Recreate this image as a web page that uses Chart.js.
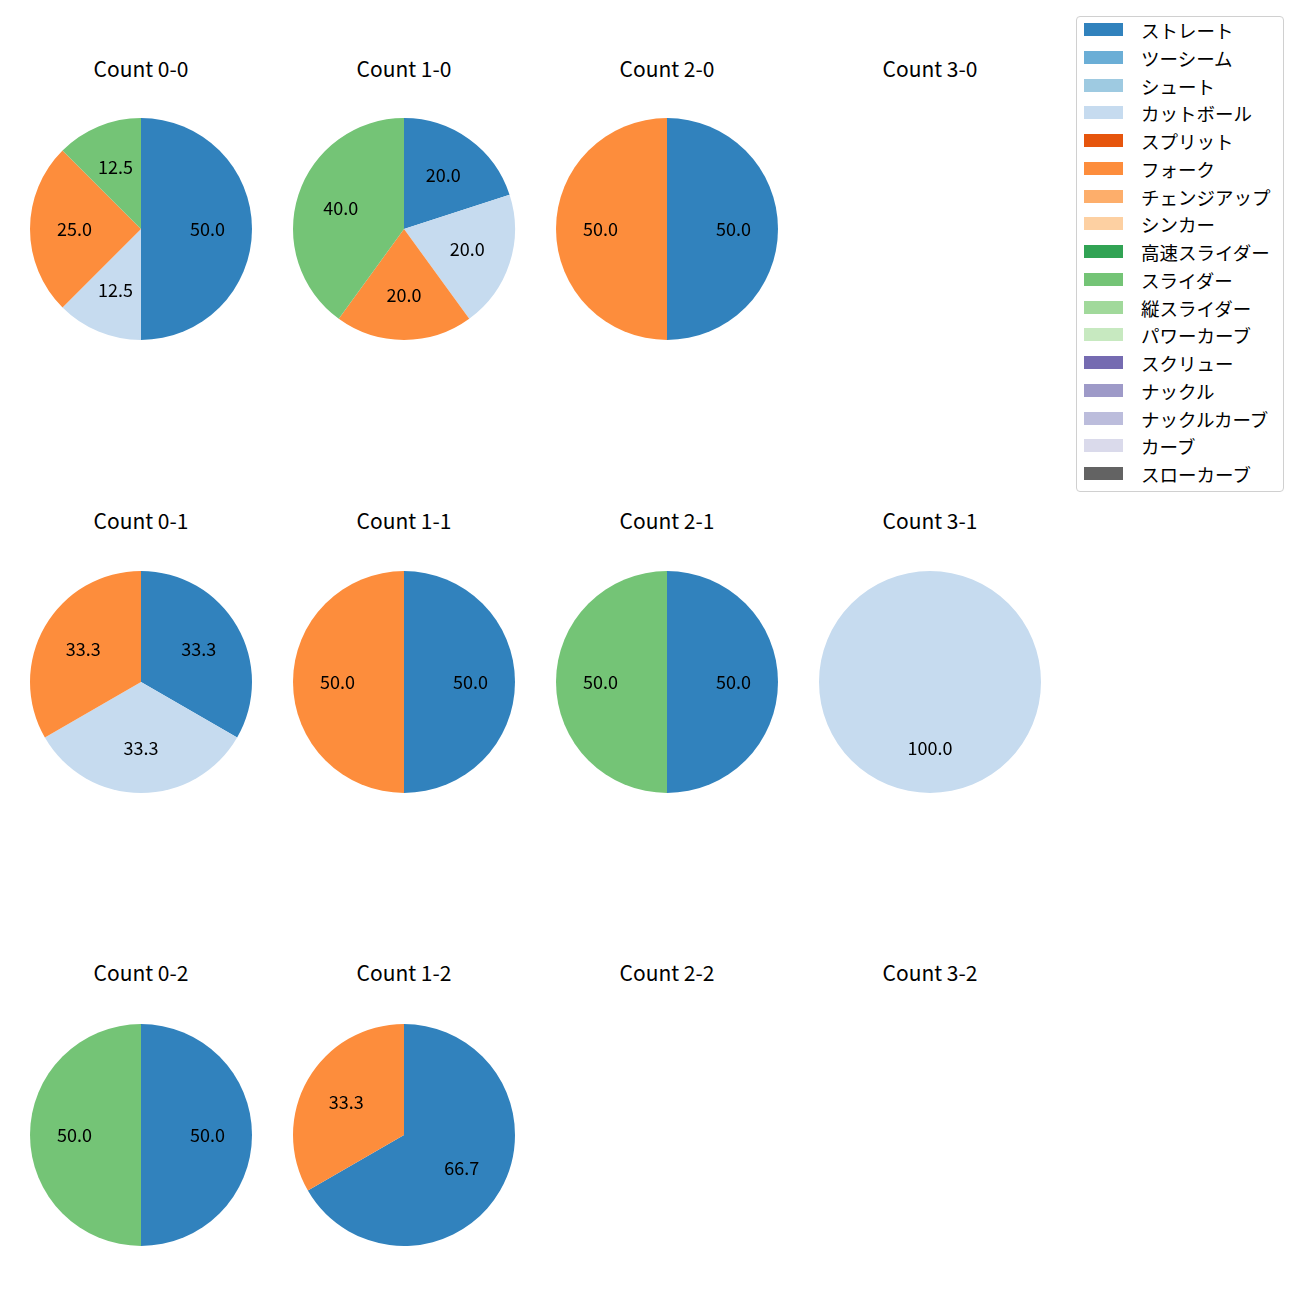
<!DOCTYPE html>
<html>
<head>
<meta charset="utf-8">
<script src="https://cdn.jsdelivr.net/npm/chart.js@4/dist/chart.umd.min.js"></script>
<style>
  body { margin: 0; background: #fff; font-family: "Noto Sans CJK JP", sans-serif; }
  #page { position: relative; width: 1300px; height: 1300px; }
  canvas { position: absolute; }
  .title { position: absolute; width: 240px; text-align: center; font-size: 21px; color: #000; line-height: 24px; }
  #legend { position: absolute; left: 1076px; top: 16px; width: 208px; height: 476px;
            border: 1px solid #d0d0d0; border-radius: 4px; box-sizing: border-box; }
  .item { position: absolute; left: 7px; height: 28px; font-size: 18.5px; color: #000; }
  .patch { position: absolute; left: 0; top: 7px; width: 39px; height: 13px; }
  .lbl { position: absolute; left: 57px; top: 0; white-space: nowrap; line-height: 28px; }
</style>
</head>
<body>
<div id="page"></div>
<script>
// pitch types and tab20c colours
var pitchTypes = ['ストレート','ツーシーム','シュート','カットボール','スプリット','フォーク','チェンジアップ','シンカー',
  '高速スライダー','スライダー','縦スライダー','パワーカーブ','スクリュー','ナックル','ナックルカーブ','カーブ','スローカーブ'];
var pitchColors = ['#3182bd','#6baed6','#9ecae1','#c6dbef','#e6550d','#fd8d3c','#fdae6b','#fdd0a2',
  '#31a354','#74c476','#a1d99b','#c7e9c0','#756bb1','#9e9ac8','#bcbddc','#dadaeb','#636363'];

var countTitles = ['Count 0-0','Count 1-0','Count 2-0','Count 3-0',
                   'Count 0-1','Count 1-1','Count 2-1','Count 3-1',
                   'Count 0-2','Count 1-2','Count 2-2','Count 3-2'];

// pitches thrown per count, in pitchTypes order
var count00 = [4,0,0,1,0,2,0,0,0,1,0,0,0,0,0,0,0];
var count10 = [1,0,0,1,0,1,0,0,0,2,0,0,0,0,0,0,0];
var count20 = [1,0,0,0,0,1,0,0,0,0,0,0,0,0,0,0,0];
var count30 = [0,0,0,0,0,0,0,0,0,0,0,0,0,0,0,0,0];
var count01 = [1,0,0,1,0,1,0,0,0,0,0,0,0,0,0,0,0];
var count11 = [1,0,0,0,0,1,0,0,0,0,0,0,0,0,0,0,0];
var count21 = [1,0,0,0,0,0,0,0,0,1,0,0,0,0,0,0,0];
var count31 = [0,0,0,1,0,0,0,0,0,0,0,0,0,0,0,0,0];
var count02 = [1,0,0,0,0,0,0,0,0,1,0,0,0,0,0,0,0];
var count12 = [2,0,0,0,0,1,0,0,0,0,0,0,0,0,0,0,0];
var count22 = [0,0,0,0,0,0,0,0,0,0,0,0,0,0,0,0,0];
var count32 = [0,0,0,0,0,0,0,0,0,0,0,0,0,0,0,0,0];
var countData = [count00,count10,count20,count30,count01,count11,count21,count31,count02,count12,count22,count32];

var colX = [141, 404, 667, 930];
var rowY = [229, 682, 1135];
var titleY = [69, 521, 973];

// percent labels at 0.6 of the radius, like matplotlib autopct
var pctLabels = {
  id: 'pctLabels',
  afterDatasetsDraw: function(chart) {
    var ctx = chart.ctx;
    var vals = chart.data.datasets[0].data;
    var total = vals.reduce(function(a, b) { return a + b; }, 0);
    if (!total) return;
    ctx.save();
    ctx.font = '18px "Noto Sans CJK JP", sans-serif';
    ctx.fillStyle = '#000';
    ctx.textAlign = 'center';
    ctx.textBaseline = 'middle';
    chart.getDatasetMeta(0).data.forEach(function(arc, i) {
      if (!vals[i]) return;
      var p = arc.getProps(['x','y','startAngle','endAngle','outerRadius'], true);
      var a = (p.startAngle + p.endAngle) / 2;
      var r = p.outerRadius * 0.6;
      ctx.fillText((vals[i] / total * 100).toFixed(1), p.x + Math.cos(a) * r, p.y + Math.sin(a) * r);
    });
    ctx.restore();
  }
};

var page = document.getElementById('page');
countData.forEach(function(vals, k) {
  var col = k % 4, row = Math.floor(k / 4);
  var t = document.createElement('div');
  t.className = 'title';
  t.style.left = (colX[col] - 120) + 'px';
  t.style.top = (titleY[row] - 13) + 'px';
  t.textContent = countTitles[k];
  page.appendChild(t);

  var cv = document.createElement('canvas');
  cv.width = 242; cv.height = 242;
  cv.style.left = (colX[col] - 121) + 'px';
  cv.style.top = (rowY[row] - 121) + 'px';
  page.appendChild(cv);
  new Chart(cv.getContext('2d'), {
    type: 'pie',
    data: {
      labels: pitchTypes,
      datasets: [{
        data: vals,
        backgroundColor: pitchColors,
        borderWidth: 0
      }]
    },
    options: {
      responsive: false,
      animation: false,
      layout: { padding: 10 },
      plugins: { legend: { display: false }, tooltip: { enabled: false } }
    },
    plugins: [pctLabels]
  });
});

// legend
var lg = document.createElement('div');
lg.id = 'legend';
pitchTypes.forEach(function(name, i) {
  var it = document.createElement('div');
  it.className = 'item';
  it.style.top = (i * 27.75 - 1) + 'px';
  it.innerHTML = '<div class="patch" style="background:' + pitchColors[i] + '"></div><div class="lbl">' + name + '</div>';
  lg.appendChild(it);
});
page.appendChild(lg);
</script>
</body>
</html>
